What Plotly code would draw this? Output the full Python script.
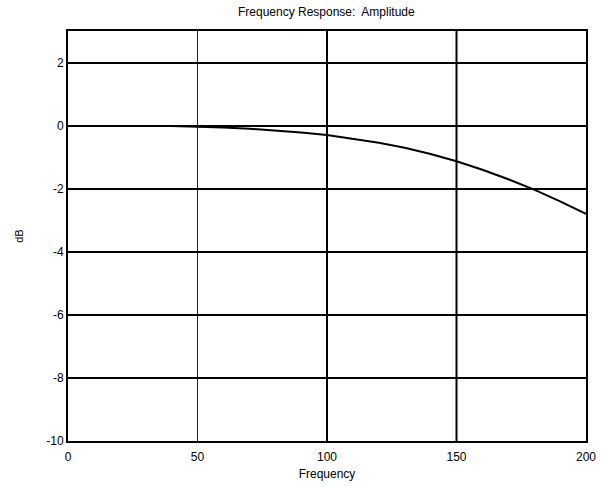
import plotly.graph_objects as go

freq = [40, 50, 60, 70, 80, 90, 100, 110, 120, 130, 140, 150, 160, 170, 180, 190, 200]
amp_db = [-0.01, -0.03, -0.06, -0.10, -0.15, -0.22, -0.30, -0.41, -0.54, -0.70,
          -0.90, -1.13, -1.40, -1.70, -2.03, -2.40, -2.80]

x_ticks = [0, 50, 100, 150, 200]
x_tick_text = ["0", "50", "100", "150", "200"]
y_ticks = [-10, -8, -6, -4, -2, 0, 2]
y_tick_text = ["-10", "-8", "-6", "-4", "-2", "0", "2"]
thin_grid_x = [50]
thick_grid_x = [100, 150]

fig = go.Figure()
fig.add_trace(go.Scatter(x=freq, y=amp_db, mode="lines",
                         line=dict(color="black", width=2), showlegend=False))

shapes = []
for gx in thin_grid_x:
    shapes.append(dict(type="line", xref="x", yref="paper", x0=gx, x1=gx, y0=0, y1=1,
                       line=dict(color="#222222", width=1), layer="below"))
for gx in thick_grid_x:
    shapes.append(dict(type="line", xref="x", yref="paper", x0=gx, x1=gx, y0=0, y1=1,
                       line=dict(color="black", width=2), layer="below"))

font = dict(family="Liberation Sans, Arial, sans-serif", size=11, color="black")
tick_font = dict(family="Liberation Sans, Arial, sans-serif", size=12, color="black")

fig.update_layout(
    width=601, height=486,
    margin=dict(l=68, r=15, t=31, b=45),
    paper_bgcolor="white", plot_bgcolor="white",
    font=font,
    shapes=shapes,
    title=dict(text="Frequency Response:  Amplitude", x=0.543, xanchor="center",
               y=0.975, yanchor="middle", font=tick_font),
    xaxis=dict(range=[0, 200], tickvals=x_ticks, ticktext=x_tick_text,
               showgrid=False, zeroline=False, automargin=False,
               showline=True, linecolor="black", linewidth=2, mirror=True,
               ticks="outside", ticklen=4, tickcolor="rgba(0,0,0,0)",
               tickfont=tick_font,
               title=dict(text="Frequency", standoff=6, font=tick_font)),
    yaxis=dict(range=[-10, 3], tickvals=y_ticks, ticktext=y_tick_text,
               showgrid=True, gridcolor="black",
               gridwidth=2, zeroline=False, automargin=False,
               showline=True, linecolor="black", linewidth=2, mirror=True,
               ticks="", ticklen=0, tickfont=tick_font,
               title=dict(text="dB", standoff=20, font=font)),
)

fig.write_html("out.html")
